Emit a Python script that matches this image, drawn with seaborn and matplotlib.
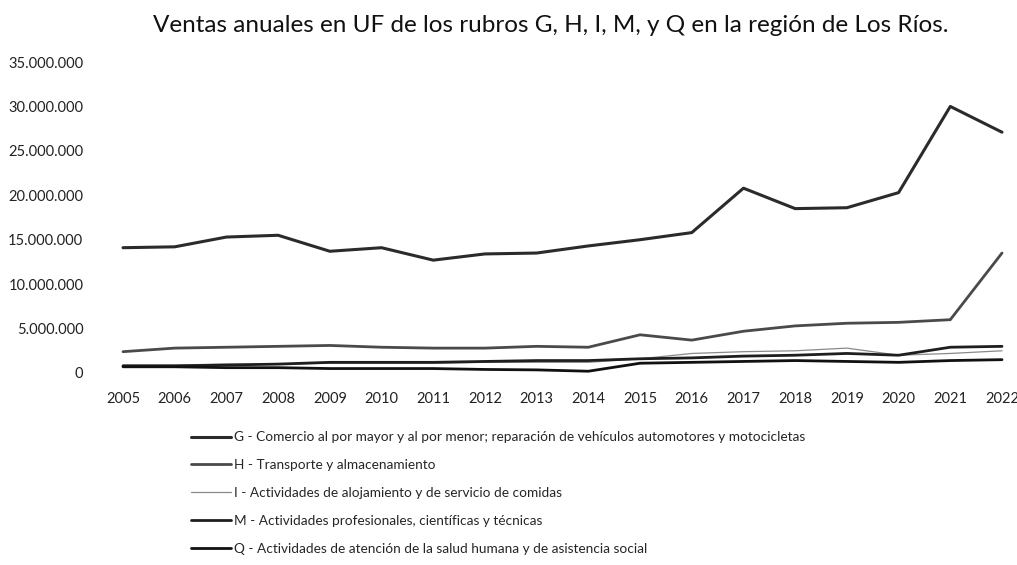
import pandas as pd
import numpy as np
import matplotlib
matplotlib.use("Agg")
import matplotlib.pyplot as plt
import seaborn as sns
from matplotlib.ticker import FuncFormatter

# Ventas anuales (UF)
years = list(range(2005, 2023))

g_comercio = [14.1, 14.2, 15.3, 15.5, 13.7, 14.1, 12.7, 13.4, 13.5, 14.3,
              15.0, 15.8, 20.8, 18.5, 18.6, 20.3, 30.0, 27.1]
h_transporte = [2.4, 2.8, 2.9, 3.0, 3.1, 2.9, 2.8, 2.8, 3.0, 2.9,
                4.3, 3.7, 4.7, 5.3, 5.6, 5.7, 6.0, 13.5]
i_alojamiento = [0.9, 0.9, 1.0, 1.0, 1.1, 1.1, 1.1, 1.2, 1.2, 1.2,
                 1.6, 2.2, 2.4, 2.5, 2.8, 2.0, 2.2, 2.5]
m_profesionales = [0.8, 0.8, 0.9, 1.0, 1.2, 1.2, 1.2, 1.3, 1.4, 1.4,
                   1.6, 1.7, 1.9, 2.0, 2.2, 2.0, 2.9, 3.0]
q_salud = [0.7, 0.7, 0.6, 0.6, 0.5, 0.5, 0.5, 0.4, 0.35, 0.2,
           1.1, 1.2, 1.3, 1.4, 1.3, 1.2, 1.4, 1.5]

labels = [
    "G - Comercio al por mayor y al por menor; reparación de vehículos automotores y motocicletas",
    "H - Transporte y almacenamiento",
    "I - Actividades de alojamiento y de servicio de comidas",
    "M - Actividades profesionales, científicas y técnicas",
    "Q - Actividades de atención de la salud humana y de asistencia social",
]
series = [g_comercio, h_transporte, i_alojamiento, m_profesionales, q_salud]
colors = ["#2b2b2b", "#4a4a4a", "#8a8a8a", "#1e1e1e", "#111111"]
widths = [2.2, 2.0, 0.9, 2.0, 2.0]

sns.set_style("white")
plt.rcParams["font.family"] = ["Lato", "DejaVu Sans"]

fig = plt.figure(figsize=(10.17, 5.65), dpi=100)
# 2005 en x≈123, 2022 en x≈1002, 0 en y≈373, 35M en y≈62
step = (1002 - 123) / 17
ax = fig.add_axes([(123 - step / 2) / 1017, 1 - 373 / 565, 18 * step / 1017, 311 / 565])

for lab, vals, col, lw in zip(labels, series, colors, widths):
    df = pd.DataFrame({"year": years, "value": np.array(vals) * 1e6})
    sns.lineplot(data=df, x="year", y="value", ax=ax, color=col,
                 linewidth=lw, label=lab)

ax.set_xlim(2004.5, 2022.5)
ax.set_ylim(0, 35e6)
ax.set_xticks(years)
ax.set_yticks(np.arange(0, 35e6 + 1, 5e6))
ax.yaxis.set_major_formatter(FuncFormatter(lambda v, p: f"{int(v):,}".replace(",", ".")))
ax.tick_params(axis="both", labelsize=10.5, length=0, colors="#222222")
ax.tick_params(axis="y", pad=10)
ax.tick_params(axis="x", pad=14)
ax.set_xlabel("")
ax.set_ylabel("")
for s in ax.spines.values():
    s.set_visible(False)

ax.get_legend().remove()
handles, labs = ax.get_legend_handles_labels()
fig.legend(handles, labs, loc="upper left", bbox_to_anchor=(186 / 1017, 1 - 426 / 565),
           frameon=False, fontsize=9.8, handlelength=2.9, handletextpad=0.2,
           labelspacing=1.16, borderaxespad=0)

fig.text(551 / 1017, 1 - 25 / 565,
         "Ventas anuales en UF de los rubros G, H, I, M, y Q en la región de Los Ríos.",
         ha="center", va="center", fontsize=17.5, color="#111111")

fig.savefig("out.png", dpi=100)
